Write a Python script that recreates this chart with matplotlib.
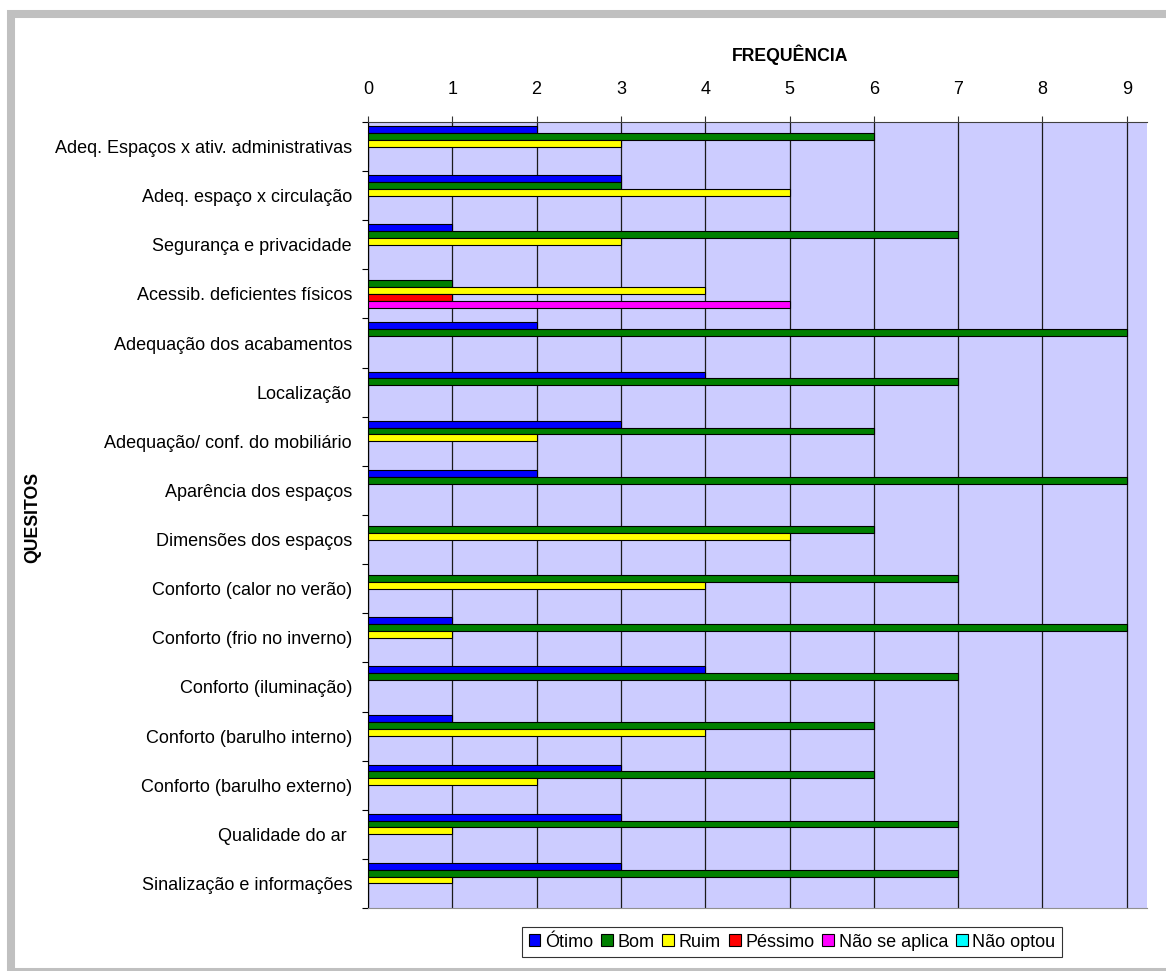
import numpy as np
import matplotlib
matplotlib.use('Agg')
import matplotlib.pyplot as plt
from matplotlib.patches import Rectangle

plt.rcParams['font.family'] = ['Liberation Sans', 'DejaVu Sans']

# quesitos avaliados (de cima para baixo)
quesitos = [
    'Adeq. Espaços x ativ. administrativas',
    'Adeq. espaço x circulação',
    'Segurança e privacidade',
    'Acessib. deficientes físicos',
    'Adequação dos acabamentos',
    'Localização',
    'Adequação/ conf. do mobiliário',
    'Aparência dos espaços',
    'Dimensões dos espaços',
    'Conforto (calor no verão)',
    'Conforto (frio no inverno)',
    'Conforto (iluminação)',
    'Conforto (barulho interno)',
    'Conforto (barulho externo)',
    'Qualidade do ar ',
    'Sinalização e informações',
]

# frequência de respostas por conceito
otimo = [2, 3, 1, 0, 2, 4, 3, 2, 0, 0, 1, 4, 1, 3, 3, 3]
bom = [6, 3, 7, 1, 9, 7, 6, 9, 6, 7, 9, 7, 6, 6, 7, 7]
ruim = [3, 5, 3, 4, 0, 0, 2, 0, 5, 4, 1, 0, 4, 2, 1, 1]
pessimo = [0, 0, 0, 1, 0, 0, 0, 0, 0, 0, 0, 0, 0, 0, 0, 0]
nao_se_aplica = [0, 0, 0, 5, 0, 0, 0, 0, 0, 0, 0, 0, 0, 0, 0, 0]
nao_optou = [0, 0, 0, 0, 0, 0, 0, 0, 0, 0, 0, 0, 0, 0, 0, 0]

series = [otimo, bom, ruim, pessimo, nao_se_aplica, nao_optou]
nomes = ['Ótimo', 'Bom', 'Ruim', 'Péssimo', 'Não se aplica', 'Não optou']
cores = ['#0000FF', '#008000', '#FFFF00', '#FF0000', '#FF00FF', '#00FFFF']

W, H = 1166, 971
fig = plt.figure(figsize=(W / 100, H / 100), dpi=100)

# moldura cinza
fig.patches.append(Rectangle((11 / W, 1 - 972 / H), 1.2, (972 - 14) / H,
                             transform=fig.transFigure, fill=False,
                             edgecolor='#C0C0C0', linewidth=5.8, zorder=0))

ax = fig.add_axes([368 / W, 1 - 908 / H, (1147 - 368) / W, (908 - 122) / H])
ax.set_facecolor('#CCCCFF')

y = np.arange(len(quesitos))
h = 0.14
for j, (vals, nome, cor) in enumerate(zip(series, nomes, cores)):
    ax.barh(y - 0.35 + h * j, vals, height=h, color=cor, edgecolor='black',
            linewidth=0.8, label=nome, zorder=3)

ax.set_xlim(0, 9.24)
ax.set_ylim(len(quesitos) - 0.5, -0.5)

ax.xaxis.tick_top()
ax.set_xticks(range(10))
ax.tick_params(axis='x', direction='out', length=4.5, width=0.8,
               labelsize=13, pad=13, color='#333333')
ax.grid(axis='x', color='#1a1a1a', linewidth=0.9, zorder=1)

ax.set_yticks(np.arange(-0.5, len(quesitos), 1))
ax.set_yticklabels([])
ax.set_yticks(y, minor=True)
ax.set_yticklabels(quesitos, minor=True)
ax.tick_params(axis='y', which='major', direction='out', length=4, width=0.8)
ax.tick_params(axis='y', which='minor', length=0, labelsize=13, pad=11.5)

ax.spines['right'].set_visible(False)
ax.spines['top'].set_color('#404040')
ax.spines['bottom'].set_color('#909090')
ax.spines['left'].set_color('black')

fig.text(790 / W, 1 - 55 / H, 'FREQUÊNCIA', ha='center', va='center',
         fontsize=12.7, fontweight='bold')
fig.text(33 / W, 1 - 517 / H, 'QUESITOS', ha='center', va='center',
         rotation=90, fontsize=12.7, fontweight='bold')

leg = ax.legend(loc='center', bbox_to_anchor=(792 / W, 1 - 942 / H),
                bbox_transform=fig.transFigure, ncol=6, fontsize=13,
                frameon=True, fancybox=False, edgecolor='black',
                handlelength=0.65, handleheight=0.65, handletextpad=0.25,
                columnspacing=0.45, borderpad=0.35, borderaxespad=0)
leg.get_frame().set_linewidth(0.8)

fig.savefig('out.png', dpi=100, facecolor='white')
